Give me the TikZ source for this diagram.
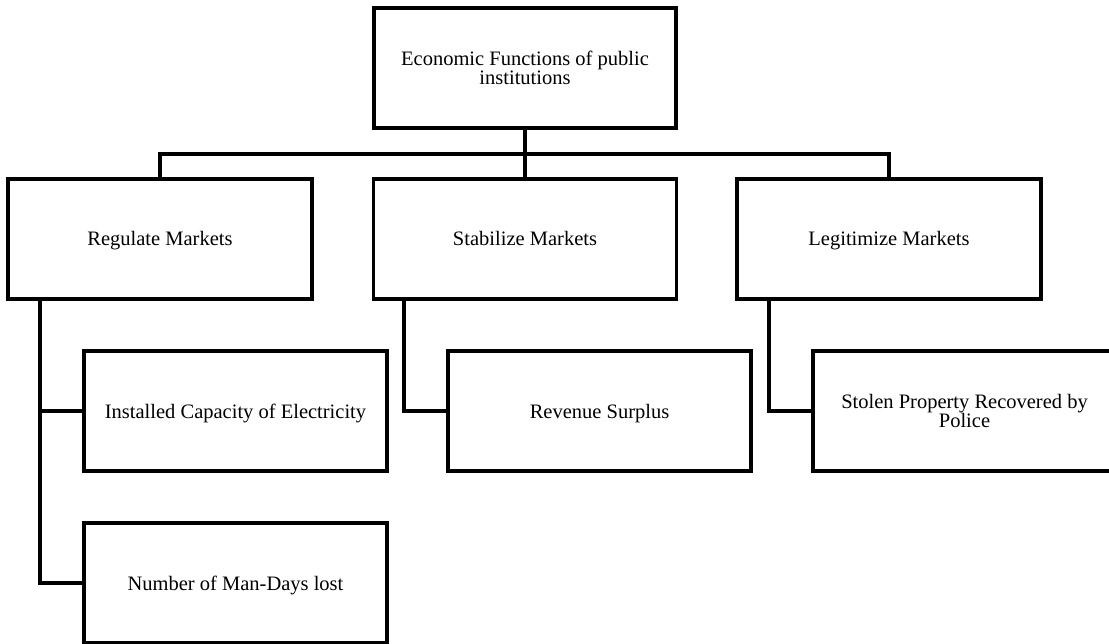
\documentclass[tikz,border=0pt]{standalone}
\usepackage{fontspec}
\setmainfont{Liberation Serif}
\newcommand\onestrut{\rule[-7pt]{0pt}{28pt}}
\newcommand\hstrut{\rule{0pt}{19pt}}
\newcommand\dstrut{\rule[-5pt]{0pt}{5pt}}
\begin{document}
\begin{tikzpicture}[x=1pt,y=-1pt,
  box/.style={draw=black,line width=3.4pt,rectangle,inner sep=0pt,
    minimum height=120pt,align=center,
    font=\fontsize{20.5}{17.5}\selectfont},
  conn/.style={draw=black,line width=3.4pt,line join=miter}]
\clip (0,0) rectangle (1109,644);
\fill[white] (0,0) rectangle (1109,644);
\node[box,minimum width=302pt] (top) at (525,68) {\hstrut Economic Functions of public\\institutions\dstrut};
\node[box,minimum width=304pt] (reg) at (160,239) {\onestrut Regulate Markets};
\node[box,minimum width=303pt] (stab) at (525,239) {\onestrut Stabilize Markets};
\node[box,minimum width=304pt] (leg) at (889,239) {\onestrut Legitimize Markets};
\node[box,minimum width=303pt] (inst) at (235.5,411) {\onestrut Installed Capacity of Electricity};
\node[box,minimum width=303pt] (man) at (235.5,583) {\onestrut Number of Man-Days lost};
\node[box,minimum width=303pt] (rev) at (599.5,411) {\onestrut Revenue Surplus};
\node[box,minimum width=303pt] (stol) at (964.5,411) {\hstrut Stolen Property Recovered by\\Police\dstrut};
\coordinate (bus) at (525,154);
\coordinate (regdown) at (40,299);
\coordinate (stabdown) at (404,299);
\coordinate (legdown) at (769,299);
\draw[conn] (top.south) -- (stab.north);
\draw[conn] (reg.north) -- (reg.north |- bus) -- (leg.north |- bus) -- (leg.north);
\draw[conn] (regdown) |- (man.west);
\draw[conn] (regdown |- inst.west) -- (inst.west);
\draw[conn] (stabdown) |- (rev.west);
\draw[conn] (legdown) |- (stol.west);
\end{tikzpicture}
\end{document}
